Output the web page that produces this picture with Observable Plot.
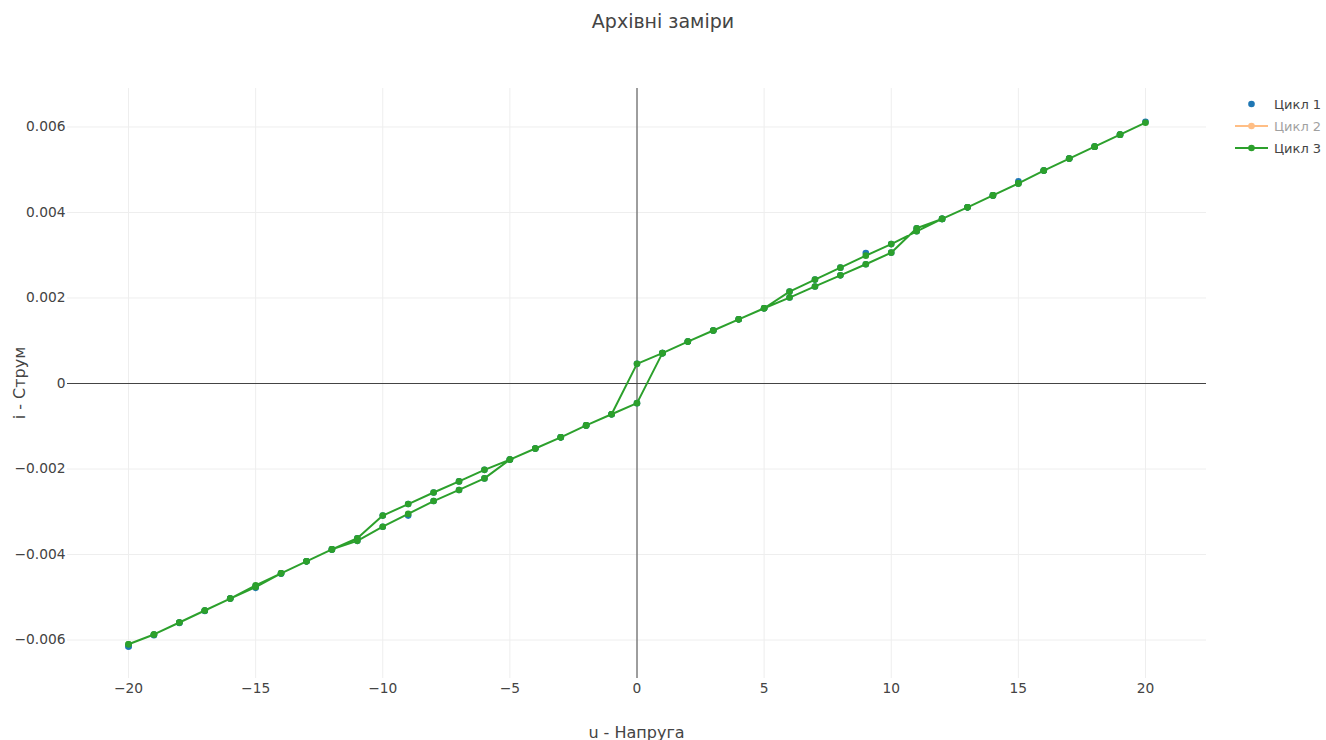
<!DOCTYPE html>
<html>
<head>
<meta charset="utf-8">
<script src="https://cdn.jsdelivr.net/npm/d3@7"></script>
<script src="https://cdn.jsdelivr.net/npm/@observablehq/plot@0.6"></script>
<style>
  html, body { margin: 0; padding: 0; background: #fff; }
  #wrap { position: relative; width: 1326px; height: 740px; overflow: hidden; font-family: 'DejaVu Sans', sans-serif; color: #444; }
  #wrap > svg { position: absolute; left: 0; top: 0; }
  #wrap > svg text { font-family: 'DejaVu Sans', sans-serif; font-size: 13.8px; fill: #444; }
  .title { position: absolute; left: 0; width: 1326px; top: 10px; text-align: center; font-size: 19px; color: #444; }
  .ytitle { position: absolute; left: 19px; top: 383px; transform: translate(-50%, -50%) rotate(-90deg); font-size: 16px; white-space: nowrap; }
  .xtitle { position: absolute; left: 636.5px; top: 732px; transform: translate(-50%, -50%); font-size: 16px; white-space: nowrap; }
  .legend { position: absolute; left: 1234px; top: 93px; font-size: 13px; }
  .legend .row { height: 22px; display: flex; align-items: center; white-space: nowrap; }
  .legend svg { position: static; margin-right: 6px; }
</style>
</head>
<body>
<div id="wrap">
  <div class="title">Архівні заміри</div>
  <div class="ytitle">i - Струм</div>
  <div class="xtitle">u - Напруга</div>
  <div class="legend" id="legend"></div>
</div>
<script>
// Series names and colours
const seriesNames = ["Цикл 1", "Цикл 2", "Цикл 3"];
const seriesColors = ["#1f77b4", "#ff7f0e", "#2ca02c"];
const seriesVisible = [true, false, true];
const seriesModes = ["markers", "lines+markers", "lines+markers"];

// Voltage path of a measurement cycle: -20 → 20 → -20
const uPath = [
  -20, -19, -18, -17, -16, -15, -14, -13, -12, -11, -10, -9, -8, -7, -6, -5, -4, -3, -2, -1,
  0, 1, 2, 3, 4, 5, 6, 7, 8, 9, 10, 11, 12, 13, 14, 15, 16, 17, 18, 19, 20,
  19, 18, 17, 16, 15, 14, 13, 12, 11, 10, 9, 8, 7, 6, 5, 4, 3, 2, 1,
  0, -1, -2, -3, -4, -5, -6, -7, -8, -9, -10, -11, -12, -13, -14, -15, -16, -17, -18, -19, -20
];

// Цикл 1 current values (markers only)
const i1 = [
  -0.00615, -0.00589, -0.00560, -0.00532, -0.00503, -0.00478, -0.00445, -0.00416, -0.00388, -0.00368,
  -0.00335, -0.00309, -0.00275, -0.00249, -0.00222, -0.00178, -0.00152, -0.00126, -0.00098, -0.00072,
  -0.00046, 0.00071, 0.00098, 0.00124, 0.00150, 0.00176, 0.00201, 0.00227, 0.00253, 0.00279,
  0.00306, 0.00363, 0.00385, 0.00412, 0.00440, 0.00473, 0.00498, 0.00526, 0.00554, 0.00582, 0.00612,
  0.00582, 0.00554, 0.00526, 0.00498, 0.00468, 0.00440, 0.00412, 0.00385, 0.00356,
  0.00326, 0.00305, 0.00271, 0.00243, 0.00215, 0.00176, 0.00150, 0.00124, 0.00098, 0.00071,
  0.00046, -0.00072, -0.00098, -0.00126, -0.00152, -0.00178, -0.00202, -0.00229, -0.00255, -0.00282,
  -0.00309, -0.00362, -0.00388, -0.00416, -0.00444, -0.00474, -0.00503, -0.00531, -0.00559, -0.00587, -0.00615
];

// Цикл 2 is hidden in the reference (legend only)
const i2 = [];

// Цикл 3 current values (lines + markers)
const i3 = [
  -0.00610, -0.00587, -0.00559, -0.00531, -0.00503, -0.00476, -0.00444, -0.00416, -0.00388, -0.00368,
  -0.00335, -0.00305, -0.00275, -0.00249, -0.00222, -0.00178, -0.00152, -0.00126, -0.00098, -0.00072,
  -0.00046, 0.00071, 0.00098, 0.00124, 0.00150, 0.00176, 0.00201, 0.00227, 0.00253, 0.00279,
  0.00306, 0.00363, 0.00385, 0.00412, 0.00440, 0.00468, 0.00498, 0.00526, 0.00554, 0.00582, 0.00610,
  0.00582, 0.00554, 0.00526, 0.00498, 0.00468, 0.00440, 0.00412, 0.00385, 0.00356,
  0.00326, 0.00299, 0.00271, 0.00243, 0.00215, 0.00176, 0.00150, 0.00124, 0.00098, 0.00071,
  0.00046, -0.00072, -0.00098, -0.00126, -0.00152, -0.00178, -0.00202, -0.00229, -0.00255, -0.00282,
  -0.00309, -0.00362, -0.00388, -0.00416, -0.00444, -0.00472, -0.00503, -0.00531, -0.00559, -0.00587, -0.00610
];

// Axis ticks
const xTicks = [-20, -15, -10, -5, 0, 5, 10, 15, 20];
const yTicks = [-0.006, -0.004, -0.002, 0, 0.002, 0.004, 0.006];

const cycle1 = uPath.map((u, k) => ({u, i: i1[k]}));
const cycle3 = uPath.map((u, k) => ({u, i: i3[k]}));
const fmt = d3.format("");

const chart = Plot.plot({
  width: 1326,
  height: 740,
  marginLeft: 67,
  marginRight: 120,
  marginTop: 88,
  marginBottom: 62,
  style: {fontFamily: "'DejaVu Sans', sans-serif", fontSize: "13.8px", color: "#444", background: "transparent"},
  x: {domain: [-22.4, 22.4]},
  y: {domain: [-0.0069, 0.0069]},
  marks: [
    Plot.gridX(xTicks, {stroke: "#eee", strokeOpacity: 1}),
    Plot.gridY(yTicks, {stroke: "#eee", strokeOpacity: 1}),
    Plot.ruleX([0], {stroke: "#444", strokeWidth: 1}),
    Plot.ruleY([0], {stroke: "#444", strokeWidth: 1}),
    Plot.axisX(xTicks, {tickSize: 0, tickPadding: 5, tickFormat: fmt, label: null}),
    Plot.axisY(yTicks, {tickSize: 0, tickPadding: 2, tickFormat: fmt, label: null}),
    Plot.dot(cycle1, {x: "u", y: "i", r: 3.3, fill: seriesColors[0], stroke: null}),
    Plot.line(cycle3, {x: "u", y: "i", stroke: seriesColors[2], strokeWidth: 2}),
    Plot.dot(cycle3, {x: "u", y: "i", r: 3.3, fill: seriesColors[2], stroke: null})
  ]
});
const wrap = document.getElementById("wrap");
wrap.insertBefore(chart, wrap.firstChild);

// Legend
const legend = document.getElementById("legend");
seriesNames.forEach((name, k) => {
  const row = document.createElement("div");
  row.className = "row";
  row.style.opacity = seriesVisible[k] ? 1 : 0.5;
  const hasLine = seriesModes[k].includes("lines");
  row.innerHTML =
    `<svg width="34" height="10" viewBox="0 0 34 10">` +
    (hasLine ? `<line x1="1" y1="5" x2="34" y2="5" stroke="${seriesColors[k]}" stroke-width="2"/>` : "") +
    `<circle cx="17.5" cy="5" r="3.3" fill="${seriesColors[k]}"/></svg>` +
    `<span>${name}</span>`;
  legend.appendChild(row);
});
</script>
</body>
</html>
